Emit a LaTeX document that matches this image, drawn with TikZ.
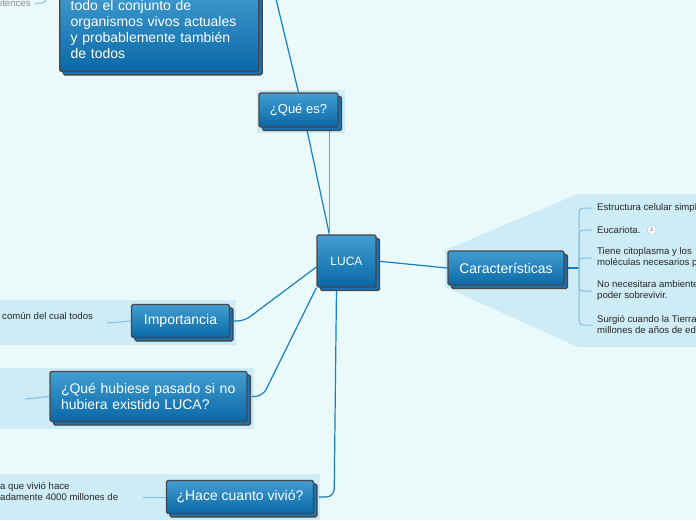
\documentclass[tikz,border=0pt]{standalone}
\usepackage{fontspec}
\setmainfont{Liberation Sans}
\usepackage{xcolor}
\usetikzlibrary{positioning,shadows,backgrounds}
\definecolor{bgcyan}{RGB}{234,250,251}
\definecolor{band}{RGB}{206,236,246}
\definecolor{topblue}{RGB}{66,158,209}
\definecolor{botblue}{RGB}{10,104,166}
\definecolor{shblue}{RGB}{22,116,178}
\definecolor{edge}{RGB}{74,68,72}
\definecolor{linkblue}{RGB}{22,128,192}
\definecolor{sublink}{RGB}{128,192,226}
\definecolor{greytxt}{RGB}{140,140,140}
\tikzset{
  topic/.style ={draw=edge, line width=1.3pt, top color=topblue, bottom color=botblue,
                 rounded corners=1.5pt, text=white, inner sep=0pt,
                 font=\fontsize{14}{16}\selectfont,
                 general shadow={shadow xshift=3.5pt, shadow yshift=-3.5pt,
                                 fill=shblue, draw=edge, line width=1.3pt}},
  leaf/.style  ={anchor=west, align=left, inner sep=0pt, text=black!85,
                 font=\fontsize{9.6}{11}\selectfont},
  badge/.style ={draw=sublink, fill=white, rounded corners=1.5pt, inner sep=1pt,
                 minimum size=8pt, text=linkblue!60!black, font=\fontsize{5}{6}\selectfont},
  link/.style  ={draw=linkblue, line width=1.2pt},
  link2/.style ={draw=linkblue!70, line width=0.8pt},
  sub/.style   ={draw=sublink, line width=1pt},
}
\begin{document}
\begin{tikzpicture}[x=1pt,y=-1pt]
\useasboundingbox (0,0) rectangle (696,520);
\clip (0,0) rectangle (696,520);

\node[topic,text width=177pt,align=left,inner xsep=11pt,inner ysep=13pt,anchor=south west] (desc) at (59,72)
  {todo el conjunto de\\organismos vivos actuales\\y probablemente también\\de todos};
\node[topic,minimum width=59pt,minimum height=52pt,font=\fontsize{12}{14}\selectfont] (luca) at (346.5,261) {LUCA};
\node[topic,minimum width=79pt,minimum height=34pt,font=\fontsize{13}{16}\selectfont] (qe) at (298.5,110) {¿Qué es?};
\node[topic,minimum width=116pt,minimum height=34pt] (car) at (506,268) {Características};
\node[topic,minimum width=98pt,minimum height=33pt] (imp) at (180.5,321) {Importancia};
\node[topic,text width=175pt,align=left,inner xsep=11pt,minimum height=50pt] (qh) at (148.5,396.5)
  {¿Qué hubiese pasado si no\\hubiera existido LUCA?};
\node[topic,minimum width=147pt,minimum height=33pt] (hc) at (240,497) {¿Hace cuanto vivió?};

\node[leaf] (c1) at (597,208) {Estructura celular simpl};
\node[leaf] (c2) at (597,230) {Eucariota.};
\node[badge,right=7pt of c2] (n2) {2};
\node[leaf] (c3) at (597,258) {Tiene citoplasma y los\\moléculas necesarios p};
\node[leaf] (c4) at (597,291) {No necesitara ambiente\\poder sobrevivir.};
\node[leaf] (c5) at (597,325) {Surgió cuando la Tierra\\millones de años de ed};
\node[leaf] (ic) at (2,316) {común del cual todos};
\node[leaf] (hcc) at (0,492) {a que vivió hace\\adamente 4000 millones de};
\node[leaf,text=greytxt] (pc) at (0,3) {itences};

\coordinate (carj) at (579,268);
\coordinate (impe) at (107,323);
\coordinate (qhe) at (25,399);
\coordinate (hce) at (143,497);
\coordinate (qtop) at (269,-30);
\coordinate (pce) at (46,-10);
\coordinate (lt) at ([xshift=13pt]luca.north west);

\begin{scope}[on background layer]
\fill[bgcyan] (0,0) rectangle (696,520);
\fill[band] (257,90) rectangle (345,133);
\fill[band] (445,250) -- (578,194) -- (696,194) -- (696,347) -- (578,347) -- (445,287) -- cycle;
\fill[band] (0,300) rectangle (236,345);
\fill[band] (0,368) rectangle (254,429);
\fill[band] (0,474) rectangle (320,520);

\draw[link] (luca.east) -- (car.west);
\draw[link] (car.east) -- (carj);
\foreach \c in {c1,c2,c3,c4,c5}
  \draw[sub,rounded corners=4pt] (carj) |- ([xshift=-5pt]\c.west);
\draw[link] (lt) -- ([xshift=8pt]qe.south);
\draw[link2] (lt) -- (lt |- qe.south);
\draw[link] (qe.north) -- (qtop);
\draw[link,rounded corners=7pt] ([yshift=-6pt]luca.west) -- ([xshift=14pt]imp.east) -- ([xshift=4pt]imp.east);
\draw[sub] (imp.west) -- (impe);
\draw[link,rounded corners=8pt] (luca.south west) -- ([xshift=15pt]qh.east) -- ([xshift=4pt]qh.east);
\draw[sub] (qh.west) -- (qhe);
\draw[link,rounded corners=8pt] ([xshift=-10pt]luca.south) -- ([xshift=20pt]hc.east) -- ([xshift=5pt]hc.east);
\draw[sub] (hc.west) -- (hce);
\draw[sub,rounded corners=4pt] ([xshift=4pt]pc.east) -| (pce);
\end{scope}
\end{tikzpicture}
\end{document}
